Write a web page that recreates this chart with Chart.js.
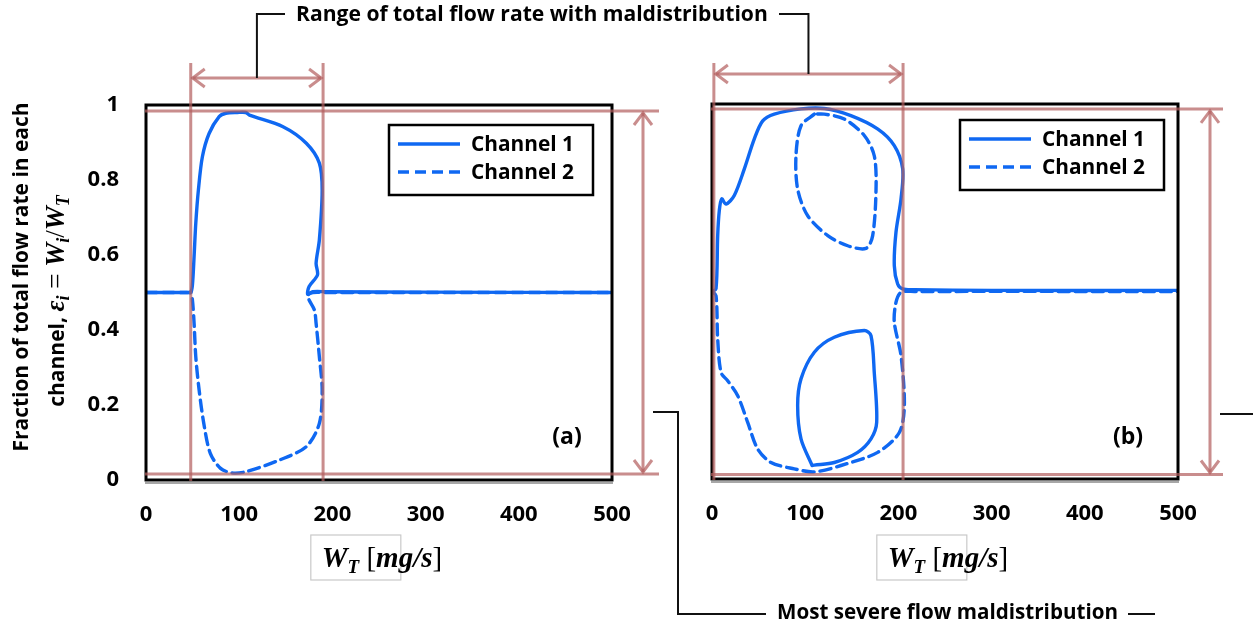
<!DOCTYPE html>
<html><head><meta charset="utf-8">
<script src="https://cdn.jsdelivr.net/npm/chart.js@4.4.0/dist/chart.umd.min.js"></script>
<style>
html,body{margin:0;padding:0;background:#fff;overflow:hidden}
#wrap{position:relative;width:1253px;height:630px;background:#fff}
canvas{position:absolute;left:0;top:0}
</style>
</head><body>
<div id="wrap"><canvas id="ca" width="1253" height="630"></canvas><canvas id="cb" width="1253" height="630"></canvas></div>
<script>
// ---------- data ----------
const xTickLabels = ['0','100','200','300','400','500'];
const yTickLabels = ['0','0.2','0.4','0.6','0.8','1'];
const seriesNames = ['Channel 1','Channel 2'];
const panelLabels = ['(a)','(b)'];

// panel (a): [W_T, epsilon]
const aChannel1 = [[0,0.5],[44,0.5],[48,0.5],[49.8,0.52],[51.6,0.596],[53.4,0.684],[56.2,0.773],[60.5,0.862],[67.7,0.924],[78.5,0.969],[85.7,0.978],[98,0.980],[107,0.980],[111,0.973],[147,0.942],[172,0.898],[186,0.845],[189,0.773],[186,0.64],[182.5,0.578],[184,0.547],[175,0.516],[173.5,0.495],[179,0.502],[193,0.502],[300,0.501],[500,0.5]];
const aChannel2 = [[0,0.5],[44,0.5],[48,0.5],[49.8,0.48],[51.6,0.418],[53.4,0.329],[57,0.24],[62,0.151],[69,0.071],[80,0.031],[92,0.019],[107,0.022],[143,0.053],[172,0.089],[186,0.151],[189,0.24],[186,0.329],[182.5,0.418],[180.7,0.453],[175,0.48],[173.5,0.493],[179,0.5],[193,0.5],[500,0.5]];

// panel (b)
const bChannel1Outer = [[0,0.5],[4.3,0.507],[6.1,0.649],[7.8,0.715],[10.4,0.747],[15,0.733],[23.9,0.756],[34.7,0.827],[45.4,0.907],[54.4,0.955],[66.8,0.973],[95.5,0.987],[120.5,0.988],[149,0.969],[178,0.933],[195.6,0.889],[204.6,0.827],[202.8,0.747],[197.4,0.658],[195.6,0.569],[199.2,0.52],[204.6,0.507],[217,0.505],[300,0.503],[500,0.503]];
const bChannel1Loop = [[107.4,0.036],[95.5,0.107],[91.9,0.196],[95.5,0.267],[109.8,0.338],[131.2,0.378],[163.4,0.396],[170.6,0.382],[174.1,0.284],[176.7,0.151],[170.6,0.107],[156.3,0.071],[131.2,0.044],[109.8,0.037],[107.4,0.036]];
const bChannel2Outer = [[0,0.5],[4.3,0.489],[6.1,0.373],[9.7,0.284],[16.8,0.262],[27.6,0.222],[38.3,0.151],[49,0.08],[63.3,0.044],[88.3,0.027],[109.8,0.019],[138.4,0.036],[177.8,0.071],[201,0.124],[206.4,0.196],[202.8,0.329],[195.6,0.418],[197.4,0.471],[202.8,0.498],[217,0.5],[500,0.5]];
const bChannel2Loop = [[109.8,0.973],[95.5,0.942],[90.1,0.862],[91.9,0.773],[102.7,0.702],[124.2,0.649],[145.6,0.622],[165.2,0.615],[172.4,0.649],[176,0.773],[174.1,0.862],[163.4,0.916],[141.9,0.96],[120.5,0.973],[109.8,0.973]];

// annotation values
const aRangeW = [48, 190];
const bRangeW = [2, 205];
const aExtremes = [0.016, 0.984];
const bExtremes = [0.012, 0.987];
const topNote = 'Range of total flow rate with maldistribution';
const bottomNote = 'Most severe flow maldistribution';
const yTitleLine1 = 'Fraction of total flow rate in each';

// ---------- styles ----------
const BLUE = '#0f68f2';
const BROWN = 'rgba(178,92,92,0.70)';
const SANS = '"Open Sans", Lato, sans-serif';
const SERIF = '"Liberation Serif", "DejaVu Serif", serif';
const DASH = [11,6];
const LW = 3.4;

function toXY(arr){ return arr.map(p => ({x:p[0], y:p[1]})); }
function fitFont(ctx, text, width, weight, family){
  let s = 30; ctx.font = weight+' '+s+'px '+family;
  const w = ctx.measureText(text).width; s = s*width/w;
  return weight+' '+s.toFixed(2)+'px '+family;
}
function richWidth(ctx, segs){ let w=0; segs.forEach(s=>{ctx.font=s.f; w+=ctx.measureText(s.t).width;}); return w; }
function drawRich(ctx, segs, x, y){
  ctx.textAlign='left'; ctx.textBaseline='alphabetic';
  segs.forEach(s=>{ ctx.font=s.f; ctx.fillText(s.t, x, y+(s.dy||0)); x+=ctx.measureText(s.t).width; });
}
function arrowHead(ctx, tx, ty, dx, dy, len, half){
  ctx.beginPath();
  ctx.moveTo(tx - dx*len - dy*half, ty - dy*len + dx*half);
  ctx.lineTo(tx, ty);
  ctx.lineTo(tx - dx*len + dy*half, ty - dy*len - dx*half);
  ctx.stroke();
}
function line(ctx, pts){ ctx.beginPath(); ctx.moveTo(pts[0][0],pts[0][1]); for(let i=1;i<pts.length;i++) ctx.lineTo(pts[i][0],pts[i][1]); ctx.stroke(); }

const decor = {
  id:'decor',
  afterDatasetsDraw(chart, args, o){
    const ctx = chart.ctx, ca = chart.chartArea, xs = chart.scales.x, ys = chart.scales.y;
    ctx.save();
    // frame
    ctx.strokeStyle='#000'; ctx.lineWidth=3;
    ctx.strokeRect(ca.left, ca.top, ca.right-ca.left, ca.bottom-ca.top);
    ctx.strokeStyle='#8a8a8a'; ctx.lineWidth=1.5;
    line(ctx, [[ca.left-1, ca.bottom+3],[ca.right+1, ca.bottom+3]]);

    // legend
    const lx = ca.right + o.legend.dx, ly = ca.top + o.legend.dy;
    ctx.strokeStyle='#000'; ctx.lineWidth=2.5;
    ctx.strokeRect(lx, ly, 204, 70);
    seriesNames.forEach((name, i) => {
      const yy = ly + 19 + i*28;
      ctx.strokeStyle = BLUE; ctx.lineWidth = LW;
      ctx.setLineDash(i===0 ? [] : DASH);
      line(ctx, [[lx+9, yy],[lx+71, yy]]);
      ctx.setLineDash([]);
      ctx.fillStyle='#000'; ctx.font = fitFont(ctx, name, 103, 'bold', SANS);
      ctx.textAlign='left'; ctx.textBaseline='middle';
      ctx.fillText(name, lx+82, yy+1);
    });

    // panel label
    ctx.fillStyle='#000'; ctx.font='bold 23px '+SANS; ctx.textAlign='center'; ctx.textBaseline='middle';
    ctx.fillText(o.label, ca.right + o.labelPos.dx, ca.bottom + o.labelPos.dy);

    // brown annotation lines
    ctx.strokeStyle = BROWN; ctx.lineWidth = 3; ctx.lineCap='butt';
    const x1 = xs.getPixelForValue(o.range[0]), x2 = xs.getPixelForValue(o.range[1]);
    line(ctx, [[x1, o.vTop],[x1, ca.bottom+1]]);
    line(ctx, [[x2, o.vTop],[x2, ca.bottom+1]]);
    line(ctx, [[x1+2, o.arrowY],[x2-2, o.arrowY]]);
    arrowHead(ctx, x1+2, o.arrowY, -1, 0, 12, 9);
    arrowHead(ctx, x2-2, o.arrowY, 1, 0, 12, 9);
    const yT = ys.getPixelForValue(o.ext[1]), yB = ys.getPixelForValue(o.ext[0]);
    line(ctx, [[ca.left-1, yT],[ca.right+o.extRight, yT]]);
    line(ctx, [[ca.left-1, yB],[ca.right+o.extRight, yB]]);
    const ax = ca.right + o.arrowDx;
    line(ctx, [[ax, yT+2],[ax, yB-2]]);
    arrowHead(ctx, ax, yT+2, 0, -1, 12, 9);
    arrowHead(ctx, ax, yB-2, 0, 1, 12, 9);

    // x-axis title  W_T [mg/s]
    ctx.fillStyle='#000';
    const segs = [
      {t:'W', f:'bold italic 29px '+SERIF},
      {t:'T', f:'bold italic 19px '+SERIF, dy:6},
      {t:' [', f:'29px '+SERIF},
      {t:'mg/s', f:'bold italic 29px '+SERIF},
      {t:']', f:'29px '+SERIF}
    ];
    const tw = richWidth(ctx, segs);
    const tx = (ca.left+ca.right)/2 + 3 - tw/2;
    ctx.strokeStyle='#c9c9c9'; ctx.lineWidth=1.2;
    ctx.strokeRect(tx-11, 535, 90, 45);
    drawRich(ctx, segs, tx, 567);

    // y-axis title (panel a only)
    if (o.yTitle){
      ctx.save();
      ctx.translate(22, 277); ctx.rotate(-Math.PI/2);
      ctx.font = fitFont(ctx, yTitleLine1, 349, 'bold', SANS);
      ctx.textAlign='center'; ctx.textBaseline='middle';
      ctx.fillText(yTitleLine1, 0, 0);
      ctx.restore();
      ctx.save();
      ctx.translate(64, 301); ctx.rotate(-Math.PI/2);
      const mf = 'bold italic 27px '+SERIF, sf='bold italic 18px '+SERIF, nf='27px '+SERIF;
      const l2 = [
        {t:'channel, ', f:'bold 21px '+SANS},
        {t:'\u03B5', f:mf},{t:'i', f:sf, dy:5},
        {t:' = ', f:nf},
        {t:'W', f:mf},{t:'i', f:sf, dy:5},
        {t:'/', f:nf},
        {t:'W', f:mf},{t:'T', f:sf, dy:5}
      ];
      const w2 = richWidth(ctx, l2);
      drawRich(ctx, l2, -w2/2, 0);
      ctx.restore();
    }
    ctx.restore();
  }
};

function makeOptions(side, showY){
  return {
    responsive:false, animation:false, devicePixelRatio:1,
    layout:{padding: side},
    plugins:{legend:{display:false}, tooltip:{enabled:false}},
    elements:{point:{radius:0}, line:{tension:0.3, borderWidth:LW, borderColor:BLUE, fill:false}},
    scales:{
      x:{type:'linear', min:0, max:500,
        grid:{display:false, drawTicks:false}, border:{display:false},
        ticks:{stepSize:100, padding:22, color:'#000', font:{family:SANS, size:22, weight:'bold'},
          callback:(v)=>xTickLabels[Math.round(v/100)]},
        afterFit:(s)=>{ s.height = 100; }
      },
      y:{type:'linear', min:0, max:1,
        grid:{display:false, drawTicks:false}, border:{display:false},
        ticks:{display:showY, stepSize:0.2, padding:27, color:'#000', font:{family:SANS, size:22, weight:'bold'},
          callback:(v)=>yTickLabels[Math.round(v*5)]},
        afterFit:(s)=>{ s.width = 100; }
      }
    }
  };
}
function ds(label, arr, dashed){
  return {label, data:toXY(arr), showLine:true, pointRadius:0, borderColor:BLUE, borderWidth:LW,
    borderDash: dashed?DASH:[], tension:0.3, fill:false, borderCapStyle:'round', borderJoinStyle:'round'};
}

const optA = makeOptions({left:46, right:641, top:105, bottom:50}, true);
optA.plugins.decor = {range:aRangeW, ext:aExtremes, vTop:63, arrowY:78, arrowDx:31, extRight:47,
  legend:{dx:-223, dy:20}, label:panelLabels[0], labelPos:{dx:-45, dy:-43}, yTitle:true};
const chartA = new Chart(document.getElementById('ca'), {
  type:'scatter',
  data:{datasets:[ds(seriesNames[1], aChannel2, true), ds(seriesNames[0], aChannel1, false)]},
  options:optA, plugins:[decor]
});

const notes = {
  id:'notes',
  afterDraw(chart){
    const ctx = chart.ctx;
    const xa = chartA.scales.x, xb = chart.scales.x;
    const caA = chartA.chartArea;
    const ma = (xa.getPixelForValue(aRangeW[0]) + xa.getPixelForValue(aRangeW[1]))/2;
    const mb = (xb.getPixelForValue(bRangeW[0]) + xb.getPixelForValue(bRangeW[1]))/2;
    ctx.save();
    ctx.fillStyle='#000'; ctx.strokeStyle='#111'; ctx.lineWidth=2;
    // top note
    const tL = 296, tW = 472;
    ctx.font = fitFont(ctx, topNote, tW, 'bold', SANS);
    ctx.textAlign='left'; ctx.textBaseline='middle';
    ctx.fillText(topNote, tL, 15);
    line(ctx, [[ma, 78],[ma, 14],[tL-11, 14]]);
    line(ctx, [[tL+tW+11, 14],[mb, 14],[mb, 74]]);
    // bottom note
    const bL = 777, bW = 341;
    ctx.font = fitFont(ctx, bottomNote, bW, 'bold', SANS);
    ctx.fillText(bottomNote, bL, 613);
    const axA = caA.right + 31;
    line(ctx, [[axA+10, 412],[678, 412],[678, 614],[bL-11, 614]]);
    line(ctx, [[bL+bW+10, 614],[1155, 614]]);
    const axB = chart.chartArea.right + 32;
    line(ctx, [[axB+10, 414],[1253, 414]]);
    ctx.restore();
  }
};

const optB = makeOptions({left:612, right:75, top:104, bottom:51}, false);
optB.plugins.decor = {range:bRangeW, ext:bExtremes, vTop:63, arrowY:74, arrowDx:32, extRight:45,
  legend:{dx:-218, dy:16}, label:panelLabels[1], labelPos:{dx:-50, dy:-42}, yTitle:false};
const chartB = new Chart(document.getElementById('cb'), {
  type:'scatter',
  data:{datasets:[
    ds(seriesNames[1], bChannel2Outer, true), ds(seriesNames[1], bChannel2Loop, true),
    ds(seriesNames[0], bChannel1Outer, false), ds(seriesNames[0], bChannel1Loop, false)
  ]},
  options:optB, plugins:[decor, notes]
});
</script>
</body></html>
